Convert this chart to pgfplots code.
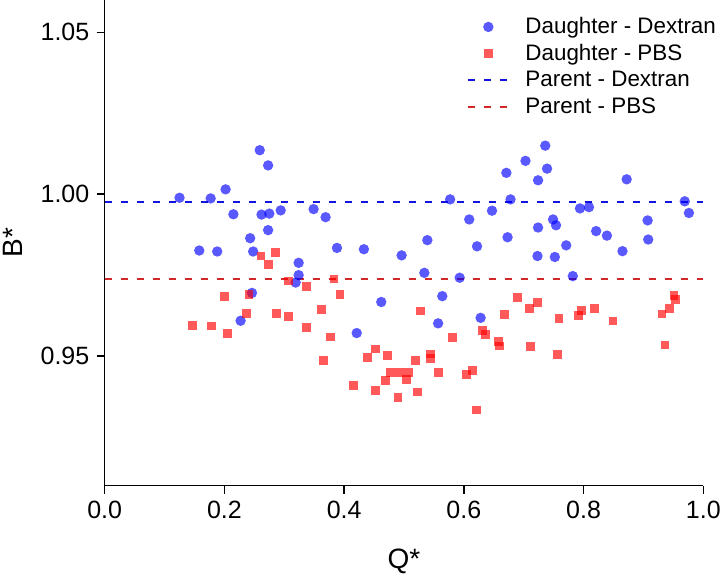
\documentclass[border=0pt]{standalone}
\usepackage{fontspec}
\setmainfont{Liberation Sans}
\usepackage{pgfplots}
\pgfplotsset{compat=1.18}
\definecolor{dotblue}{RGB}{0,0,255}
\definecolor{dotred}{RGB}{255,0,0}
\definecolor{lineblue}{RGB}{20,20,220}
\definecolor{linered}{RGB}{210,40,40}
\pgfplotsset{
  marklegend/.style={legend image code/.code={\draw[##1, mark repeat=2, mark phase=2] plot coordinates {(0pt,0pt)(10.25pt,0pt)(20.5pt,0pt)};\path[draw=none,fill=none] (0pt,-0.05pt) rectangle (28pt,0.05pt);}},
  linelegend/.style={legend image code/.code={\draw[##1] (0pt,0pt) -- (20.5pt,0pt);\path[draw=none,fill=none] (0pt,-0.05pt) rectangle (28pt,0.05pt);}},
}
\begin{document}
\begin{tikzpicture}
\begin{axis}[
  name=ax,
  scale only axis,
  width=299.3pt, height=242.75pt,
  xmin=0, xmax=1, ymin=0.91, ymax=1.06,
  axis x line=bottom, axis y line=left,
  axis line style={-, line width=0.75pt, black},
  every tick/.style={black, line width=0.75pt},
  tick align=outside, major tick length=4pt,
  xtick={0,0.2,0.4,0.6,0.8,1.0},
  ytick={0.95,1.00,1.05},
  minor tick num=0,
  /pgf/number format/assume math mode=true,
  xticklabel style={font=\fontsize{12.5}{14}\selectfont, /pgf/number format/.cd, fixed, fixed zerofill, precision=1},
  yticklabel style={font=\fontsize{12.5}{14}\selectfont, inner sep=3.5pt, /pgf/number format/.cd, fixed, fixed zerofill, precision=2},
  xlabel={Q*}, ylabel={B*},
  xlabel style={font=\fontsize{14}{16}\selectfont, at={(axis description cs:0.5,0)}, anchor=center, yshift=-38pt},
  ylabel style={font=\fontsize{14}{16}\selectfont, at={(axis description cs:0,0.5)}, anchor=center, yshift=46pt},
  clip=false,
  legend cell align=left,
  legend style={draw=none, fill=none, inner sep=0pt, outer sep=0pt,
    at={(0.605,0.972)}, anchor=north west,
    font=\fontsize{11.2}{13}\selectfont,
    row sep=0pt,
    nodes={inner sep=0.8pt, text height=9.2pt, text depth=2.55pt}},
]
\addplot[only marks, mark=*, mark size=2.6pt,
  mark options={fill=dotblue, fill opacity=0.65, draw opacity=0}, marklegend]
coordinates {
(0.125,0.9989) (0.177,0.9987) (0.202,1.0015) (0.215,0.9938) (0.259,1.0136)
(0.273,1.0089) (0.262,0.9937) (0.275,0.9940) (0.294,0.9950) (0.273,0.9889)
(0.243,0.9864) (0.158,0.9826) (0.188,0.9823) (0.248,0.9823) (0.324,0.9788)
(0.324,0.9750) (0.319,0.9727) (0.246,0.9695) (0.227,0.9609) (0.349,0.9954)
(0.369,0.9929) (0.388,0.9834) (0.433,0.9830) (0.496,0.9811) (0.539,0.9858)
(0.534,0.9757) (0.462,0.9667) (0.421,0.9571) (0.557,0.9601) (0.564,0.9685)
(0.577,0.9984) (0.593,0.9742) (0.609,0.9922) (0.622,0.9839) (0.628,0.9618)
(0.647,0.9949) (0.671,1.0066) (0.673,0.9867) (0.678,0.9984) (0.703,1.0103)
(0.736,1.0150) (0.739,1.0079) (0.724,1.0043) (0.724,0.9897) (0.723,0.9809)
(0.749,0.9922) (0.754,0.9904) (0.752,0.9806) (0.771,0.9842) (0.782,0.9747)
(0.794,0.9956) (0.809,0.9960) (0.821,0.9886) (0.839,0.9872) (0.865,0.9824)
(0.872,1.0046) (0.907,0.9919) (0.908,0.9860) (0.969,0.9978) (0.976,0.9942)
};
\addlegendentry{Daughter - Dextran}
\addplot[only marks, mark=square*, mark size=2.2pt,
  mark options={fill=dotred, fill opacity=0.65, draw opacity=0}, marklegend]
coordinates {
(0.147,0.9594) (0.179,0.9593) (0.200,0.9685) (0.205,0.9570) (0.237,0.9632)
(0.241,0.9691) (0.261,0.9809) (0.285,0.9819) (0.274,0.9784) (0.287,0.9632)
(0.307,0.9732) (0.307,0.9623) (0.337,0.9714) (0.337,0.9588) (0.362,0.9644)
(0.366,0.9487) (0.377,0.9559) (0.383,0.9738) (0.393,0.9690) (0.416,0.9410)
(0.439,0.9495) (0.452,0.9522) (0.453,0.9394) (0.469,0.9424) (0.473,0.9502)
(0.477,0.9448) (0.490,0.9372) (0.493,0.9448) (0.504,0.9428) (0.507,0.9448)
(0.519,0.9487) (0.523,0.9389) (0.527,0.9639) (0.544,0.9506) (0.544,0.9493)
(0.558,0.9448) (0.581,0.9558) (0.604,0.9443) (0.614,0.9455) (0.621,0.9333)
(0.631,0.9580) (0.636,0.9567) (0.658,0.9544) (0.659,0.9531) (0.668,0.9629)
(0.690,0.9682) (0.709,0.9647) (0.712,0.9530) (0.723,0.9666) (0.756,0.9504)
(0.759,0.9617) (0.792,0.9626) (0.797,0.9640) (0.818,0.9647) (0.849,0.9608)
(0.931,0.9630) (0.936,0.9534) (0.943,0.9648) (0.951,0.9687) (0.954,0.9675)
};
\addlegendentry{Daughter - PBS}
\addplot[lineblue, line width=1pt, dash pattern=on 3.6pt off 4.4pt, linelegend]
coordinates {(0,0.9975) (1,0.9975)};
\addlegendentry{Parent - Dextran}
\addplot[linered, line width=1pt, dash pattern=on 3.6pt off 4.4pt, linelegend]
coordinates {(0,0.9738) (1,0.9738)};
\addlegendentry{Parent - PBS}
\end{axis}
\pgfresetboundingbox
\path ([shift={(-52.35pt,-44.75pt)}]ax.south west) rectangle ([shift={(307.65pt,242.75pt)}]ax.south west);
\end{tikzpicture}
\end{document}
